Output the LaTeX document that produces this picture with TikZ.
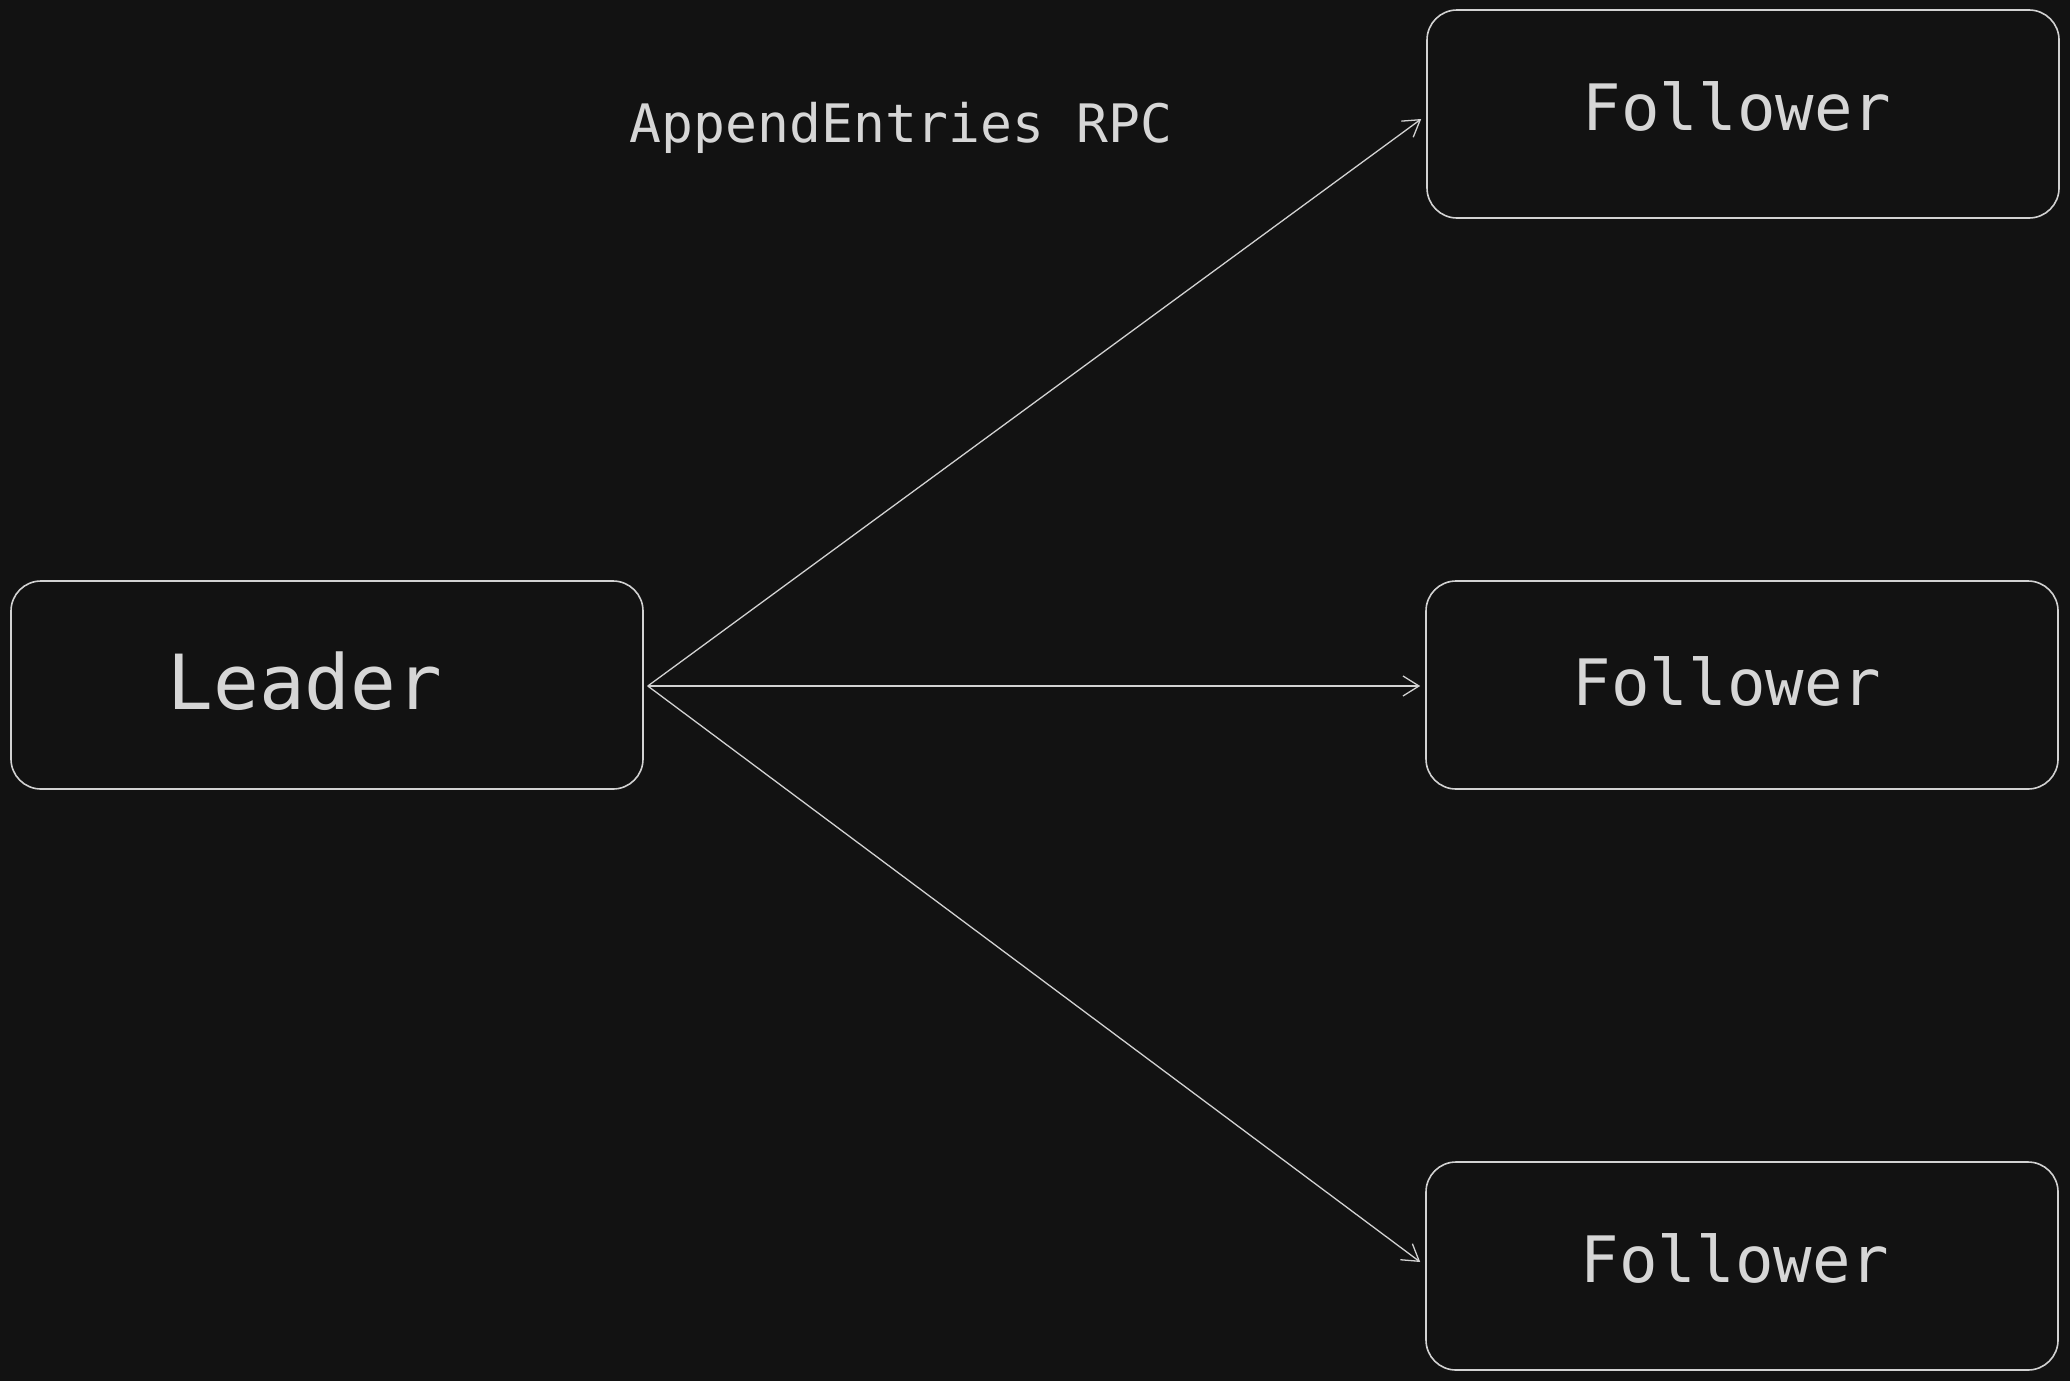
\documentclass[tikz,border=0pt]{standalone}
\usepackage{fontspec}
\setmainfont{DejaVu Sans Mono}
\usetikzlibrary{arrows.meta}
\definecolor{bgc}{HTML}{121212}
\definecolor{fgc}{HTML}{D2D2D2}
\definecolor{txc}{HTML}{D6D6D6}
\tikzset{
  box/.style={draw=fgc, line width=0.8pt, rounded corners=15pt, minimum width=316pt, minimum height=104pt, inner sep=0pt},
  lbl/.style={text=txc, inner sep=0pt, anchor=center},
  conn/.style={draw=fgc, line width=0.65pt, -{Straight Barb[length=8pt,width=10pt,line width=0.65pt]}}
}
\begin{document}
\begin{tikzpicture}[x=0.5pt,y=-0.5pt]
\fill[bgc] (0,0) rectangle (2070,1381);
\useasboundingbox (0,0) rectangle (2070,1381);
\node[box] (L) at (327,685) {};
\node[box] (F1) at (1743,114) {};
\node[box] (F2) at (1742,685) {};
\node[box] (F3) at (1742,1266) {};
\node[lbl, font=\fontsize{38pt}{44pt}\selectfont] (tL) at (305,681) {Leader};
\node[lbl, font=\fontsize{32pt}{38pt}\selectfont] (t1) at (1737,106) {Follower};
\node[lbl, font=\fontsize{32pt}{38pt}\selectfont] (t2) at (1727,681) {Follower};
\node[lbl, font=\fontsize{32pt}{38pt}\selectfont] (t3) at (1735,1258) {Follower};
\node[lbl, font=\fontsize{26.5pt}{32pt}\selectfont] (rpc) at (901,128) {AppendEntries RPC};
\draw[conn] ([xshift=2pt,yshift=-0.5pt]L.east) -- ([xshift=-2.5pt,yshift=-2.5pt]F1.west);
\draw[conn] ([xshift=2pt,yshift=-0.5pt]L.east) -- ([xshift=-2.5pt,yshift=-0.5pt]F2.west);
\draw[conn] ([xshift=2pt,yshift=-0.5pt]L.east) -- ([xshift=-2.5pt,yshift=2pt]F3.west);
\end{tikzpicture}
\end{document}
